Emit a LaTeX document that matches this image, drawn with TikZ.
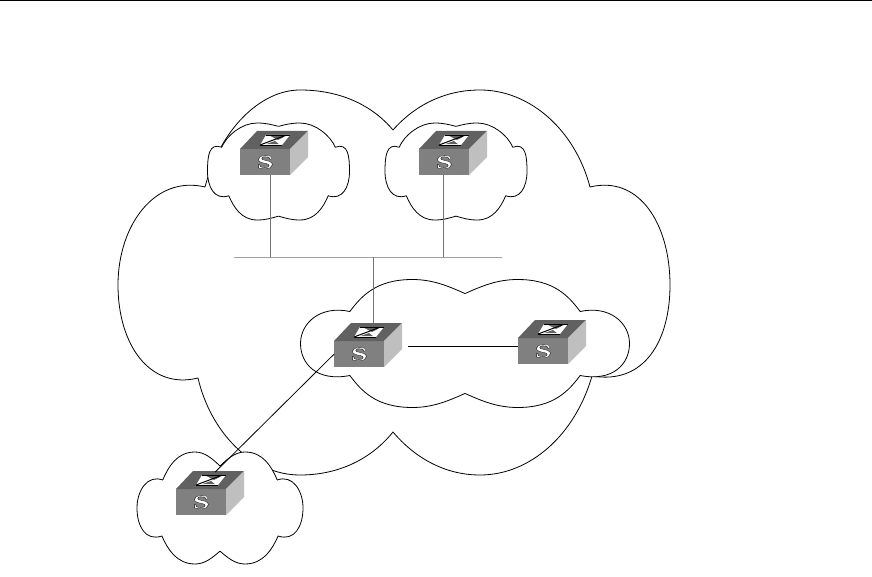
\documentclass[tikz,border=0pt]{standalone}
\usepackage{fontspec}
\newfontfamily\iconfont{Liberation Serif}[BoldFont={Liberation Serif Bold}]
\tikzset{
  cloudline/.style={draw=black,line width=0.8pt,fill=white,line join=round},
  bigcloud/.style={draw=black,line width=0.8pt,line join=round},
  graylink/.style={draw=black!55,line width=0.7pt},
  blacklink/.style={draw=black,line width=0.8pt},
  frontface/.style={fill=black!50,inner sep=0pt,minimum width=50pt,minimum height=26pt,anchor=north west,text=white},
}
\newcommand{\outlineS}{\special{pdf:code q 2 Tr 0 0 0 RG 0.25 w}\scalebox{1.6}[1]{\iconfont\bfseries\fontsize{19}{19}\selectfont S}\special{pdf:code Q}}
% name, x, y of the front face's top left corner
\newcommand{\netswitch}[3]{%
  \node[frontface] (#1) at (#2,#3) {\outlineS};
  \begin{scope}[shift={(#2,#3)}]
    \fill[black!62!white] (0,0) -- (17,-18) -- (68,-18) -- (50,0) -- cycle;
    \fill[black!25] (50,0) -- (68,-18) -- (68,8) -- (50,26) -- cycle;
    \fill[white] (26,-14) -- (50,-14) -- (42,-4) -- (20,-4) -- cycle;
    \fill[black!62!white] (30,-13.2) -- (46,-13.2) -- (38,-9) -- cycle;
    \fill[black!62!white] (26,-4.8) -- (39,-4.8) -- (35,-8) -- cycle;
    \draw[black,line width=0.8pt] (26,-14) -- (50,-14);
    \draw[black,line width=0.8pt] (20,-4) -- (42,-4);
    \draw[black,line width=1pt] (20,-4) -- (44,-13);
  \end{scope}}
% cx, cy, half width, half height, lobe peak x, top dip, bottom dip, upper junction x
\newcommand{\netcloud}[8]{%
  \path[fill=white] (#1,#2) ellipse ({0.8*#3} and {0.8*#4});
  \foreach \sgn in {1,-1}{%
    \begin{scope}[shift={(#1,#2)},x=\sgn*#3 pt,y=-#4 pt]
      \path[fill=white] (0,{-1*#6}) -- (#8,-0.5) -- (1,0) -- (0.7,0.5) -- (0,#7) -- cycle;
      \path[cloudline] (0,{-1*#6})
        .. controls ({#5*0.3},{-0.5*#6-0.5}) and ({#5*0.6},-1) .. (#5,-1)
        .. controls ({#5+0.22},-1) and ({#8-0.07},-0.74) .. (#8,-0.50)
        .. controls ({#8+0.18},-0.60) and (1,-0.32) .. (1,0)
        .. controls (1,0.32) and (0.90,0.60) .. (0.70,0.50)
        .. controls (0.63,0.74) and ({#5+0.22},1) .. (#5,1)
        .. controls ({#5*0.6},1) and ({#5*0.3},{0.5*#7+0.5}) .. (0,#7);
    \end{scope}}}
\begin{document}
\begin{tikzpicture}[x=1pt,y=-1pt]
\useasboundingbox (0,0) rectangle (872,577);
\fill[white] (0,0) rectangle (872,577);
\coordinate (ruleL) at (0,0.7);
\coordinate (ruleR) at (872,0.7);
\draw[line width=1.4pt] (ruleL) -- (ruleR);
% large cloud
\draw[bigcloud] (393,130)
  .. controls (415,105) and (445,90) .. (480,90)
  .. controls (530,90) and (575,130) .. (590,187)
  .. controls (640,175) and (670,225) .. (670,285)
  .. controls (670,340) and (645,385) .. (592,376)
  .. controls (575,435) and (530,475) .. (480,475)
  .. controls (445,475) and (415,458) .. (393,432)
  .. controls (372,458) and (340,475) .. (300,475)
  .. controls (250,475) and (210,430) .. (198,378)
  .. controls (150,390) and (118,345) .. (118,285)
  .. controls (118,225) and (155,175) .. (205,187)
  .. controls (220,130) and (260,90) .. (300,90)
  .. controls (340,90) and (372,105) .. (393,130);
% small clouds
\netcloud{278.5}{171.5}{71}{48.5}{0.30}{0.93}{0.92}{0.80}
\netcloud{456}{171.5}{71}{48.5}{0.30}{0.93}{0.92}{0.80}
\netcloud{465}{343.5}{164.5}{64}{0.32}{0.78}{0.78}{0.70}
\netcloud{220}{508}{83}{56}{0.30}{0.75}{0.77}{0.69}
% switches
\netswitch{swa}{240}{149}
\netswitch{swb}{419}{149}
\netswitch{swc}{334}{341}
\netswitch{swd}{518}{338}
\netswitch{swe}{176}{489}
% bus and links
\node[inner sep=0pt,minimum width=268pt,minimum height=0pt,draw=black!55,line width=0.7pt] (bus) at (368,257) {};
\draw[graylink] ([xshift=5pt]swa.south) -- ([xshift=5pt]swa.south |- bus.north);
\draw[graylink] ([xshift=-1pt]swb.south) -- ([xshift=-1pt]swb.south |- bus.north);
\coordinate (swcback) at ([xshift=14pt,yshift=18pt]swc.north);
\draw[graylink] (bus.south -| swcback) -- (swcback);
\coordinate (swcright) at ([xshift=24pt,yshift=8pt]swc.east);
\coordinate (swdleft) at ([yshift=5pt]swd.west);
\draw[blacklink] (swcright) -- (swdleft);
\coordinate (swetop) at ([xshift=14pt,yshift=17pt]swe.north);
\draw[blacklink] (swc.west) -- (swetop);
\end{tikzpicture}
\end{document}
